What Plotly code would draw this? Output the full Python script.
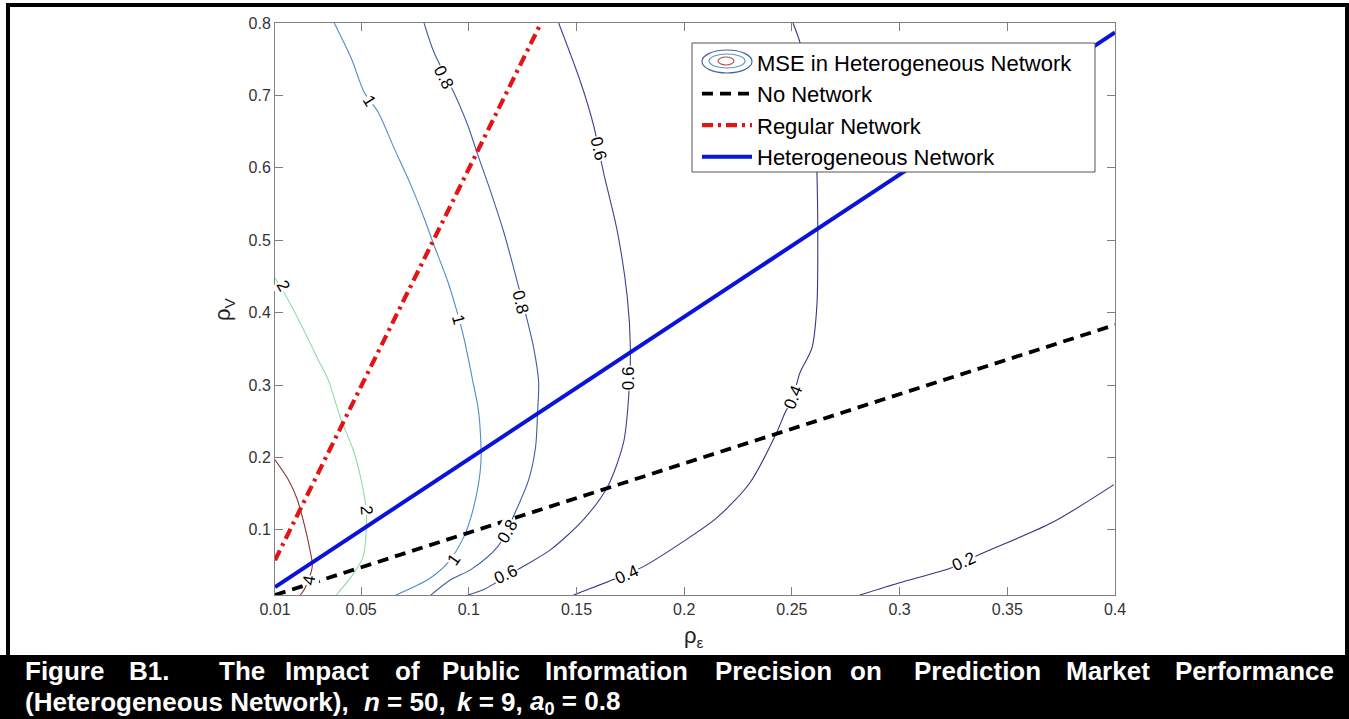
import plotly.graph_objects as go

# ---------------- data ----------------
x_ticks = [0.01, 0.05, 0.1, 0.15, 0.2, 0.25, 0.3, 0.35, 0.4]
x_ticktext = ["0.01", "0.05", "0.1", "0.15", "0.2", "0.25", "0.3", "0.35", "0.4"]
y_ticks = [0.1, 0.2, 0.3, 0.4, 0.5, 0.6, 0.7, 0.8]
y_ticktext = ["0.1", "0.2", "0.3", "0.4", "0.5", "0.6", "0.7", "0.8"]

no_net_x = [0.01, 0.4]
no_net_y = [0.01, 0.383]
reg_net_x = [0.01, 0.1335]
reg_net_y = [0.058, 0.8]
het_net_x = [0.01, 0.4]
het_net_y = [0.021, 0.787]

# contour lines of MSE (rho_eps, rho_V)
c02_x = [0.2815, 0.300, 0.3245, 0.337, 0.3708, 0.3995]
c02_y = [0.010, 0.027, 0.048, 0.0658, 0.110, 0.1624]

c04_x = [0.1486, 0.1671, 0.181, 0.1995, 0.2152, 0.2305, 0.2431, 0.2468, 0.2505,
         0.2537, 0.2593, 0.2616, 0.262, 0.2616, 0.2607, 0.2574, 0.2537, 0.2505]
c04_y = [0.010, 0.0313, 0.0492, 0.0837, 0.1168, 0.1651, 0.2356, 0.2618, 0.2834,
         0.3168, 0.3513, 0.4106, 0.5168, 0.594, 0.665, 0.721, 0.7734, 0.800]

c06_x = [0.1417, 0.1519, 0.1579, 0.1625, 0.169, 0.1736, 0.175, 0.1741, 0.1718,
         0.1644, 0.1532, 0.138, 0.1227, 0.1069, 0.0995]
c06_y = [0.800, 0.7182, 0.6588, 0.594, 0.5112, 0.4203, 0.3513, 0.2796, 0.2203,
         0.1596, 0.1141, 0.0727, 0.0451, 0.0176, 0.010]

c08_x = [0.0792, 0.0838, 0.093, 0.0995, 0.1042, 0.1102, 0.1162, 0.1208, 0.1273,
         0.1301, 0.1324, 0.1319, 0.131, 0.1278, 0.1227, 0.1134, 0.1009, 0.0917, 0.0824]
c08_y = [0.800, 0.7596, 0.7044, 0.6588, 0.6175, 0.5665, 0.5113, 0.4616, 0.3872,
         0.3513, 0.3044, 0.2617, 0.2148, 0.1693, 0.132, 0.0768, 0.0451, 0.0313, 0.010]

c1_x = [0.0375, 0.0454, 0.0514, 0.0579, 0.0653, 0.0731, 0.0792, 0.0838, 0.0903,
        0.094, 0.0977, 0.1019, 0.1046, 0.1056, 0.1023, 0.0977, 0.0903, 0.081, 0.0662]
c1_y = [0.800, 0.7513, 0.7044, 0.6768, 0.6272, 0.5761, 0.5306, 0.4934, 0.4423,
        0.4065, 0.3651, 0.3044, 0.2617, 0.1927, 0.132, 0.0906, 0.0548, 0.0313, 0.010]

c2_x = [0.010, 0.0143, 0.0222, 0.0301, 0.0347, 0.0407, 0.0463, 0.050, 0.0523,
        0.0523, 0.0509, 0.0468, 0.0385]
c2_y = [0.4478, 0.4271, 0.383, 0.3347, 0.3071, 0.252, 0.2106, 0.1692, 0.1279,
        0.0961, 0.063, 0.0409, 0.010]

c4_x = [0.010, 0.0162, 0.0204, 0.0236, 0.0259, 0.0273, 0.0236, 0.0217]
c4_y = [0.1968, 0.1692, 0.1416, 0.1072, 0.0768, 0.0493, 0.0175, 0.010]

contour_levels = ["0.2", "0.4", "0.6", "0.8", "1", "2", "4"]
contour_xs = [c02_x, c04_x, c06_x, c08_x, c1_x, c2_x, c4_x]
contour_ys = [c02_y, c04_y, c06_y, c08_y, c1_y, c2_y, c4_y]
contour_colors = ["#34347c", "#363686", "#3c4290", "#3e5ca8", "#4e8ccc", "#8edcaa", "#8a3434"]

# contour label positions: level text, x, y, angle
label_text = ["0.2", "0.4", "0.4", "0.6", "0.6", "0.6", "0.8", "0.8", "0.8",
              "1", "1", "1", "2", "2", "4"]
label_x = [0.3301, 0.1736, 0.2505, 0.1602, 0.1741, 0.1171, 0.0884, 0.1241, 0.118,
           0.0537, 0.0949, 0.0931, 0.0138, 0.0523, 0.0259]
label_y = [0.0561, 0.0382, 0.2834, 0.627, 0.310, 0.0382, 0.7251, 0.4146, 0.0975,
           0.6933, 0.3899, 0.0591, 0.438, 0.1279, 0.0299]
label_angle = [-24, -24, -68, 76, -90, -25, 63, 76, -60,
               58, 75, -55, 60, 85, -80]

legend_names = ["MSE in Heterogeneous Network", "No Network", "Regular Network",
                "Heterogeneous Network"]

caption_line1 = ["Figure", "B1.", "The", "Impact", "of", "Public", "Information",
                 "Precision", "on", "Prediction", "Market", "Performance"]
caption_line1_px = [22.7, 127, 217, 283, 393, 440, 543, 713, 848, 912, 1064, 1173]
caption_line2 = ["(Heterogeneous Network),", "<i>n</i> = 50,", "<i>k</i> = 9,",
                 "<i>a</i><sub>0</sub> = 0.8"]
caption_line2_px = [22.7, 362, 455, 528]

# ---------------- geometry ----------------
W, H = 1349, 719
L, R, T, B = 275, 1115, 23, 595
FONT = "Liberation Sans, Arial, sans-serif"


def px(xp):
    return (xp - L) / (R - L)


def py(yp):
    return (B - yp) / (B - T)


fig = go.Figure()

# dummy legend entry for contour
fig.add_trace(go.Scatter(x=[None], y=[None], mode="lines",
                         line=dict(color="rgba(0,0,0,0)", width=1),
                         name=legend_names[0], hoverinfo="skip"))

for xs, ys, col, lev in zip(contour_xs, contour_ys, contour_colors, contour_levels):
    fig.add_trace(go.Scatter(x=xs, y=ys, mode="lines",
                             line=dict(color=col, width=1.1, shape="spline", smoothing=0.8),
                             showlegend=False, name=lev, hoverinfo="skip"))

fig.add_trace(go.Scatter(x=no_net_x, y=no_net_y, mode="lines", name=legend_names[1],
                         line=dict(color="black", width=3.8, dash="11px,7px")))
fig.add_trace(go.Scatter(x=reg_net_x, y=reg_net_y, mode="lines", name=legend_names[2],
                         line=dict(color="#e31414", width=4.2, dash="11px,5px,3px,5px")))
fig.add_trace(go.Scatter(x=het_net_x, y=het_net_y, mode="lines", name=legend_names[3],
                         line=dict(color="#0a14d8", width=4)))

annotations = []
for t, x, y, a in zip(label_text, label_x, label_y, label_angle):
    annotations.append(dict(x=x, y=y, xref="x", yref="y", text=t, textangle=a,
                            showarrow=False, bgcolor="white", borderpad=0,
                            font=dict(family=FONT, size=17, color="black")))

# axis titles
annotations.append(dict(x=px(224), y=py(309), xref="paper", yref="paper",
                        text="ρ<sub>V</sub>", textangle=-90, showarrow=False,
                        xanchor="center", yanchor="middle",
                        font=dict(family=FONT, size=22, color="#222")))
annotations.append(dict(x=px(694), y=py(637), xref="paper", yref="paper",
                        text="ρ<sub>ε</sub>", showarrow=False,
                        xanchor="center", yanchor="middle",
                        font=dict(family=FONT, size=22, color="#222")))

# caption
for w, xp in zip(caption_line1, caption_line1_px):
    annotations.append(dict(x=px(xp), y=py(671), xref="paper", yref="paper", text="<b>" + w + "</b>",
                            showarrow=False, xanchor="left", yanchor="middle",
                            font=dict(family=FONT, size=26, color="white")))
for w, xp in zip(caption_line2, caption_line2_px):
    annotations.append(dict(x=px(xp), y=py(702), xref="paper", yref="paper", text="<b>" + w + "</b>",
                            showarrow=False, xanchor="left", yanchor="middle",
                            font=dict(family=FONT, size=26, color="white")))

shapes = [
    # outer border
    dict(type="rect", xref="paper", yref="paper", x0=px(8), x1=px(1347), y0=py(657), y1=py(5),
         line=dict(color="black", width=4), layer="above"),
    # caption background
    dict(type="rect", xref="paper", yref="paper", x0=px(-2), x1=px(1351), y0=py(721), y1=py(655),
         fillcolor="black", line=dict(width=0), layer="above"),
    # legend box
    dict(type="rect", xref="paper", yref="paper", x0=px(692), x1=px(1095), y0=py(172), y1=py(43),
         fillcolor="white", line=dict(color="#555", width=1), layer="above"),
    # contour icon in legend
    dict(type="circle", xref="paper", yref="paper", x0=px(702), x1=px(752), y0=py(73), y1=py(50),
         line=dict(color="#4a62a8", width=1.2), layer="above"),
    dict(type="circle", xref="paper", yref="paper", x0=px(709), x1=px(745), y0=py(68), y1=py(54),
         line=dict(color="#5a94d0", width=1.2), layer="above"),
    dict(type="circle", xref="paper", yref="paper", x0=px(718), x1=px(734), y0=py(65), y1=py(57),
         line=dict(color="#b05050", width=1.2), layer="above"),
]

axis_common = dict(showgrid=False, zeroline=False, showline=True, linecolor="#808080",
                   linewidth=1, mirror="ticks", ticks="inside", ticklen=8,
                   tickcolor="#808080", tickfont=dict(family=FONT, size=16, color="#333"))

fig.update_layout(
    width=W, height=H,
    margin=dict(l=L, r=W - R, t=T, b=H - B, pad=0),
    paper_bgcolor="white", plot_bgcolor="white",
    xaxis=dict(range=[0.01, 0.4], tickvals=x_ticks, ticktext=x_ticktext, **axis_common),
    yaxis=dict(range=[0.01, 0.8], tickvals=y_ticks, ticktext=y_ticktext, **axis_common),
    showlegend=True,
    legend=dict(x=px(697), y=py(41.2), xanchor="left", yanchor="top",
                bgcolor="rgba(0,0,0,0)", borderwidth=0, itemwidth=50,
                font=dict(family=FONT, size=22, color="black"), traceorder="normal"),
    shapes=shapes,
    annotations=annotations,
)

fig.write_html("out.html")
